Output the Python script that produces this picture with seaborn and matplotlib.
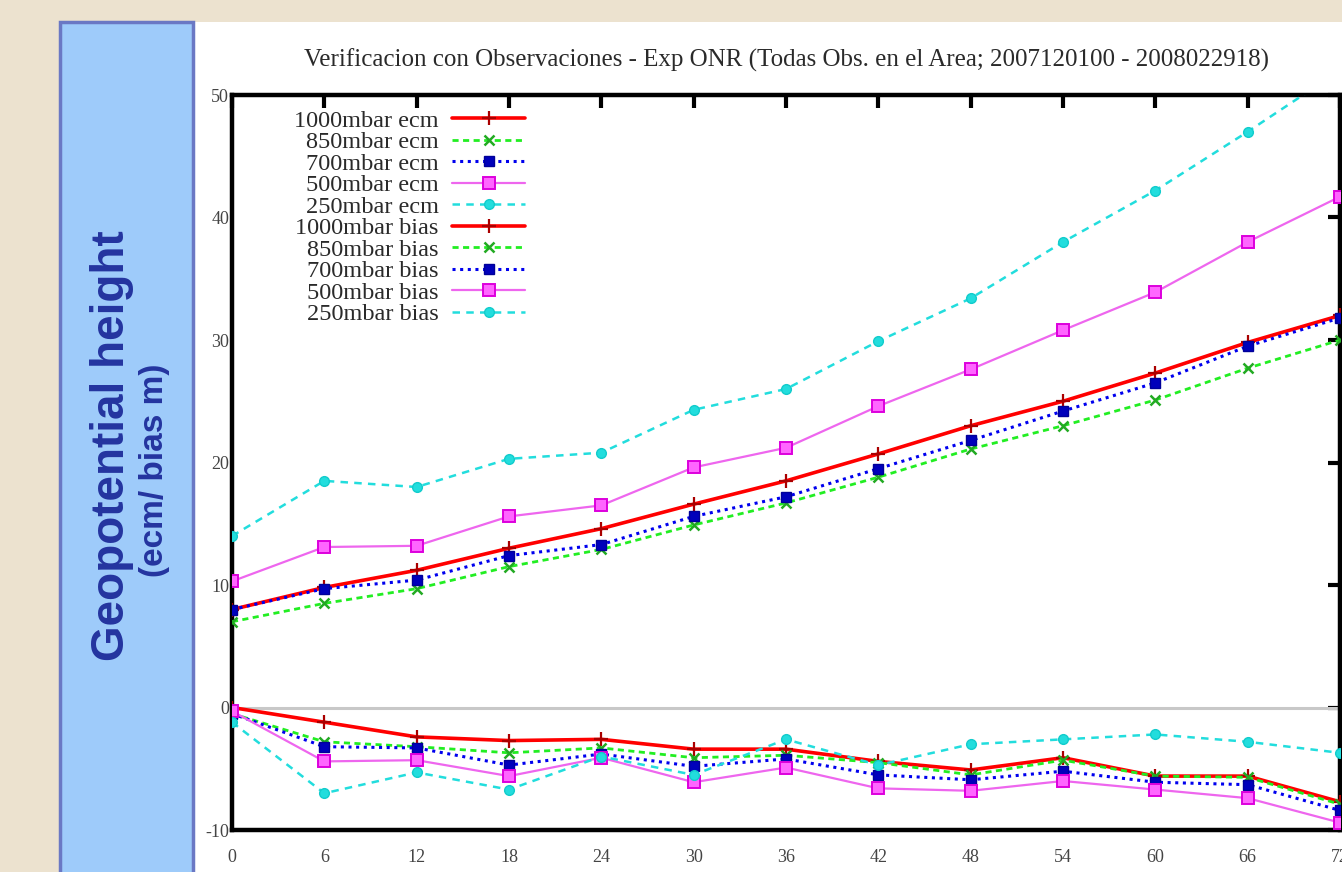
import matplotlib
matplotlib.use("Agg")
import matplotlib.pyplot as plt
import seaborn as sns
import pandas as pd
from matplotlib.patches import Rectangle

# ---------------- data ----------------
hours = [0, 6, 12, 18, 24, 30, 36, 42, 48, 54, 60, 66, 72]

ecm_1000 = [8.0, 9.8, 11.2, 13.0, 14.6, 16.6, 18.5, 20.7, 23.0, 25.0, 27.3, 29.8, 32.0]
ecm_850 = [7.0, 8.5, 9.7, 11.5, 12.9, 14.9, 16.7, 18.8, 21.1, 23.0, 25.1, 27.7, 30.0]
ecm_700 = [8.0, 9.7, 10.4, 12.4, 13.3, 15.6, 17.2, 19.5, 21.8, 24.2, 26.5, 29.5, 31.8]
ecm_500 = [10.3, 13.1, 13.2, 15.6, 16.5, 19.6, 21.2, 24.6, 27.6, 30.8, 33.9, 38.0, 41.7]
ecm_250 = [14.0, 18.5, 18.0, 20.3, 20.8, 24.3, 26.0, 29.9, 33.4, 38.0, 42.2, 47.0, 52.0]

bias_1000 = [0.0, -1.2, -2.4, -2.7, -2.6, -3.4, -3.4, -4.4, -5.1, -4.1, -5.6, -5.6, -7.7]
bias_850 = [-0.5, -2.8, -3.2, -3.7, -3.3, -4.1, -3.9, -4.5, -5.5, -4.3, -5.6, -5.7, -7.9]
bias_700 = [-0.5, -3.2, -3.3, -4.7, -3.8, -4.8, -4.2, -5.5, -5.9, -5.2, -6.1, -6.3, -8.4]
bias_500 = [-0.3, -4.4, -4.3, -5.6, -4.1, -6.1, -4.9, -6.6, -6.8, -6.0, -6.7, -7.4, -9.4]
bias_250 = [-1.2, -7.0, -5.3, -6.7, -4.0, -5.5, -2.6, -4.7, -3.0, -2.6, -2.2, -2.8, -3.7]

labels_ecm = ["1000mbar ecm", "850mbar ecm", "700mbar ecm", "500mbar ecm", "250mbar ecm"]
labels_bias = ["1000mbar bias", "850mbar bias", "700mbar bias", "500mbar bias", "250mbar bias"]

x_ticks = [0, 6, 12, 18, 24, 30, 36, 42, 48, 54, 60, 66, 72]
y_ticks = [-10, 0, 10, 20, 30, 40, 50]

title = "Verificacion con Observaciones - Exp ONR (Todas Obs. en el Area; 2007120100 - 2008022918)"
side_line1 = "Geopotential height"
side_line2 = "(ecm/ bias m)"

# ---------------- styles ----------------
styles = [
    dict(color="#ff0000", lw=2.6, ls="-", marker="+", ms=10, mew=1.6, mfc="#cc0000", mec="#aa0000"),
    dict(color="#22ee22", lw=2.0, ls=(0, (2.2, 1.6)), marker="x", ms=7, mew=1.8, mfc="#22bb22", mec="#22aa22"),
    dict(color="#0000ee", lw=2.2, ls=(0, (1.0, 1.5)), marker="s", ms=7, mew=1.0, mfc="#0000bb", mec="#000099"),
    dict(color="#ee66ee", lw=1.6, ls="-", marker="s", ms=9, mew=1.4, mfc="#ff66ff", mec="#dd00dd"),
    dict(color="#22dddd", lw=1.8, ls=(0, (3.0, 2.5)), marker="o", ms=7, mew=1.0, mfc="#22dddd", mec="#11cccc"),
]

ecm_series = [ecm_1000, ecm_850, ecm_700, ecm_500, ecm_250]
bias_series = [bias_1000, bias_850, bias_700, bias_500, bias_250]

# ---------------- figure ----------------
sns.set_style("white")
plt.rcParams["font.family"] = ["Liberation Serif", "DejaVu Serif"]

W, H = 1342, 872
fig = plt.figure(figsize=(W / 100, H / 100), dpi=100)
fig.patch.set_facecolor("#ece2cf")

# white slide panel and blue side box
fig.add_artist(Rectangle((194 / W, 0), 1 - 194 / W, 1 - 22 / H, transform=fig.transFigure,
                         facecolor="white", edgecolor="none", zorder=0))
fig.add_artist(Rectangle((60 / W, -0.01), (193 - 60) / W, 1 - 22 / H + 0.01, transform=fig.transFigure,
                         facecolor="#9ecbfa", edgecolor="#6a78c4", linewidth=2.5, zorder=1))
fig.text(112 / W, 1 - 446 / H, side_line1, rotation=90, ha="center", va="center",
         fontsize=33, fontweight="bold", color="#24349f", family="Liberation Sans")
fig.text(154 / W, 1 - 470 / H, side_line2, rotation=90, ha="center", va="center",
         fontsize=24, fontweight="bold", color="#24349f", family="Liberation Sans")

ax_left, ax_right, ax_top, ax_bottom = 232, 1340, 95, 830
ax = fig.add_axes([ax_left / W, 1 - ax_bottom / H, (ax_right - ax_left) / W, (ax_bottom - ax_top) / H])
ax.set_facecolor("white")
ax.set_zorder(2)

# zero axis
ax.axhline(0, color="#c8c8c8", lw=2.2, zorder=1)

for vals, lab, st in zip(ecm_series, labels_ecm, styles):
    df = pd.DataFrame({"h": hours, "v": vals})
    sns.lineplot(data=df, x="h", y="v", ax=ax, color=st["color"], linewidth=st["lw"],
                 linestyle=st["ls"], marker=st["marker"], markersize=st["ms"],
                 markeredgewidth=st["mew"], markerfacecolor=st["mfc"], markeredgecolor=st["mec"],
                 label=lab, zorder=3)
for vals, lab, st in zip(bias_series, labels_bias, styles):
    df = pd.DataFrame({"h": hours, "v": vals})
    sns.lineplot(data=df, x="h", y="v", ax=ax, color=st["color"], linewidth=st["lw"],
                 linestyle=st["ls"], marker=st["marker"], markersize=st["ms"],
                 markeredgewidth=st["mew"], markerfacecolor=st["mfc"], markeredgecolor=st["mec"],
                 label=lab, zorder=3)

ax.set_xlim(0, 72)
ax.set_ylim(-10, 50)
ax.set_xticks(x_ticks)
ax.set_yticks(y_ticks)
ax.set_xticklabels([str(t) for t in x_ticks])
ax.set_yticklabels([str(t) for t in y_ticks])
ax.set_xlabel("")
ax.set_ylabel("")
for s in ax.spines.values():
    s.set_visible(True)
    s.set_color("black")
    s.set_linewidth(3.2)
ax.tick_params(direction="in", length=9, width=3.0, top=True, right=True,
               labelsize=13, labelcolor="#444444", color="black")
ax.tick_params(axis="x", pad=14)
ax.tick_params(axis="y", pad=2)

fig.text(787 / W, 1 - 60 / H, title, ha="center", va="center",
         fontsize=18, color="#2a2a2a")

h, l = ax.get_legend_handles_labels()
leg = ax.legend(h, l, loc="upper right", bbox_to_anchor=((525 - ax_left) / (ax_right - ax_left), 0.98),
                frameon=False, markerfirst=False, fontsize=17.5, handlelength=3.0, handletextpad=0.55,
                labelspacing=-0.02, borderpad=0.0, borderaxespad=0.0)
for t in leg.get_texts():
    t.set_color("#2a2a2a")

fig.savefig("out.png", dpi=100, facecolor=fig.get_facecolor())
